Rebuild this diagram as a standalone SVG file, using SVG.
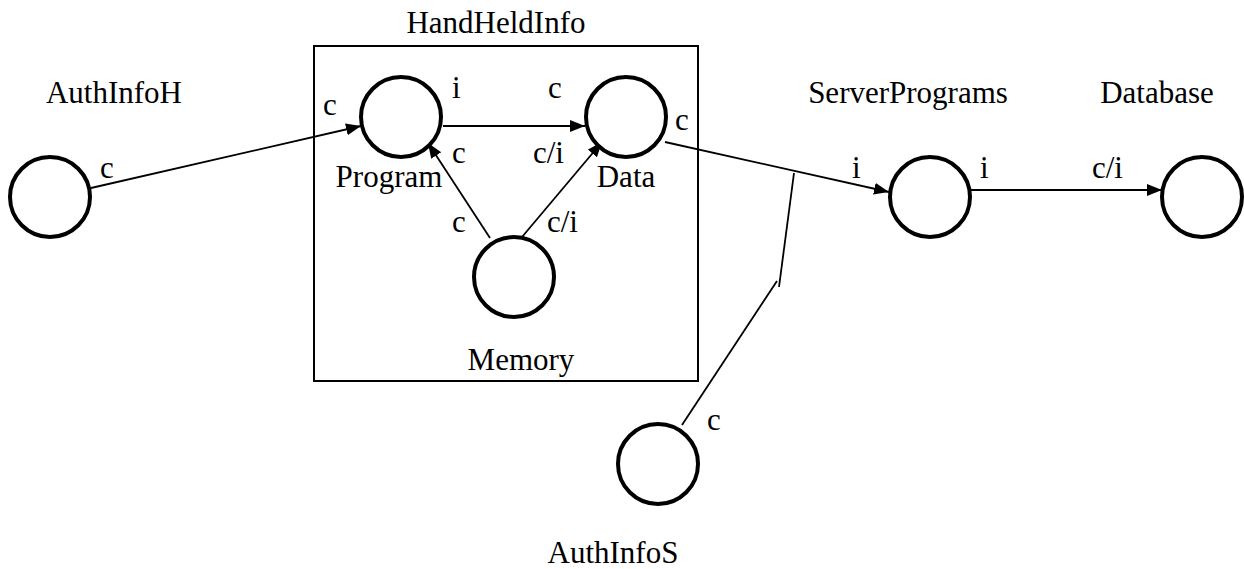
<svg xmlns="http://www.w3.org/2000/svg" width="1244" height="569" viewBox="0 0 1244 569">
  <style>
    text { font-family: "Liberation Serif", "Times New Roman", serif; font-size: 31px; fill: #000; }
    .name { text-anchor: middle; }
    .node { fill: #fff; stroke: #000; stroke-width: 4; }
    .frame { fill: none; stroke: #000; stroke-width: 2; }
    .edge { fill: none; stroke: #000; stroke-width: 1.8; }
    .arrow { marker-end: url(#head); }
  </style>
  <defs>
    <marker id="head" markerUnits="userSpaceOnUse" markerWidth="16" markerHeight="13" refX="15" refY="6" orient="auto">
      <path d="M0,0 L15,6 L0,12 Z" fill="#000"/>
    </marker>
  </defs>
  <rect width="1244" height="569" fill="#fff"/>

  <!-- HandHeldInfo container -->
  <g id="HandHeldInfo">
    <rect class="frame" x="314" y="46" width="384" height="335"/>
    <text class="name" x="496" y="33">HandHeldInfo</text>
  </g>

  <!-- connectors -->
  <g id="connectors">
    <line class="edge arrow" x1="91" y1="188" x2="361" y2="126"/>
    <line class="edge arrow" x1="443" y1="126" x2="585" y2="126"/>
    <line class="edge arrow" x1="490" y1="238" x2="428" y2="143"/>
    <line class="edge arrow" x1="522" y1="237" x2="602" y2="142"/>
    <line class="edge arrow" x1="665" y1="142" x2="889" y2="192"/>
    <line class="edge arrow" x1="970" y1="190" x2="1162" y2="190"/>
    <line class="edge" x1="794" y1="173" x2="779" y2="287"/>
    <line class="edge" x1="777" y1="281" x2="682" y2="425"/>
  </g>

  <!-- connector end labels -->
  <g id="labels">
    <text x="100" y="178">c</text>
    <text x="323" y="115">c</text>
    <text x="452" y="98">i</text>
    <text x="548" y="98">c</text>
    <text x="675" y="130">c</text>
    <text x="452" y="163">c</text>
    <text x="533" y="163">c/i</text>
    <text x="452" y="232">c</text>
    <text x="547" y="232">c/i</text>
    <text x="852" y="178">i</text>
    <text x="980" y="178">i</text>
    <text x="1092" y="178">c/i</text>
    <text x="707" y="430">c</text>
  </g>

  <g id="AuthInfoH">
    <circle class="node" cx="50" cy="197" r="40"/>
    <text class="name" x="114" y="103">AuthInfoH</text>
  </g>
  <g id="Program">
    <circle class="node" cx="401" cy="117" r="40"/>
    <text class="name" x="389" y="187">Program</text>
  </g>
  <g id="Data">
    <circle class="node" cx="626" cy="117" r="40"/>
    <text class="name" x="626" y="187">Data</text>
  </g>
  <g id="Memory">
    <circle class="node" cx="514" cy="277" r="40"/>
    <text class="name" x="521" y="370">Memory</text>
  </g>
  <g id="ServerPrograms">
    <circle class="node" cx="930" cy="197" r="40"/>
    <text class="name" x="908" y="103">ServerPrograms</text>
  </g>
  <g id="Database">
    <circle class="node" cx="1202" cy="197" r="40"/>
    <text class="name" x="1157" y="103">Database</text>
  </g>
  <g id="AuthInfoS">
    <circle class="node" cx="658" cy="464" r="40"/>
    <text class="name" x="613" y="563">AuthInfoS</text>
  </g>
</svg>
